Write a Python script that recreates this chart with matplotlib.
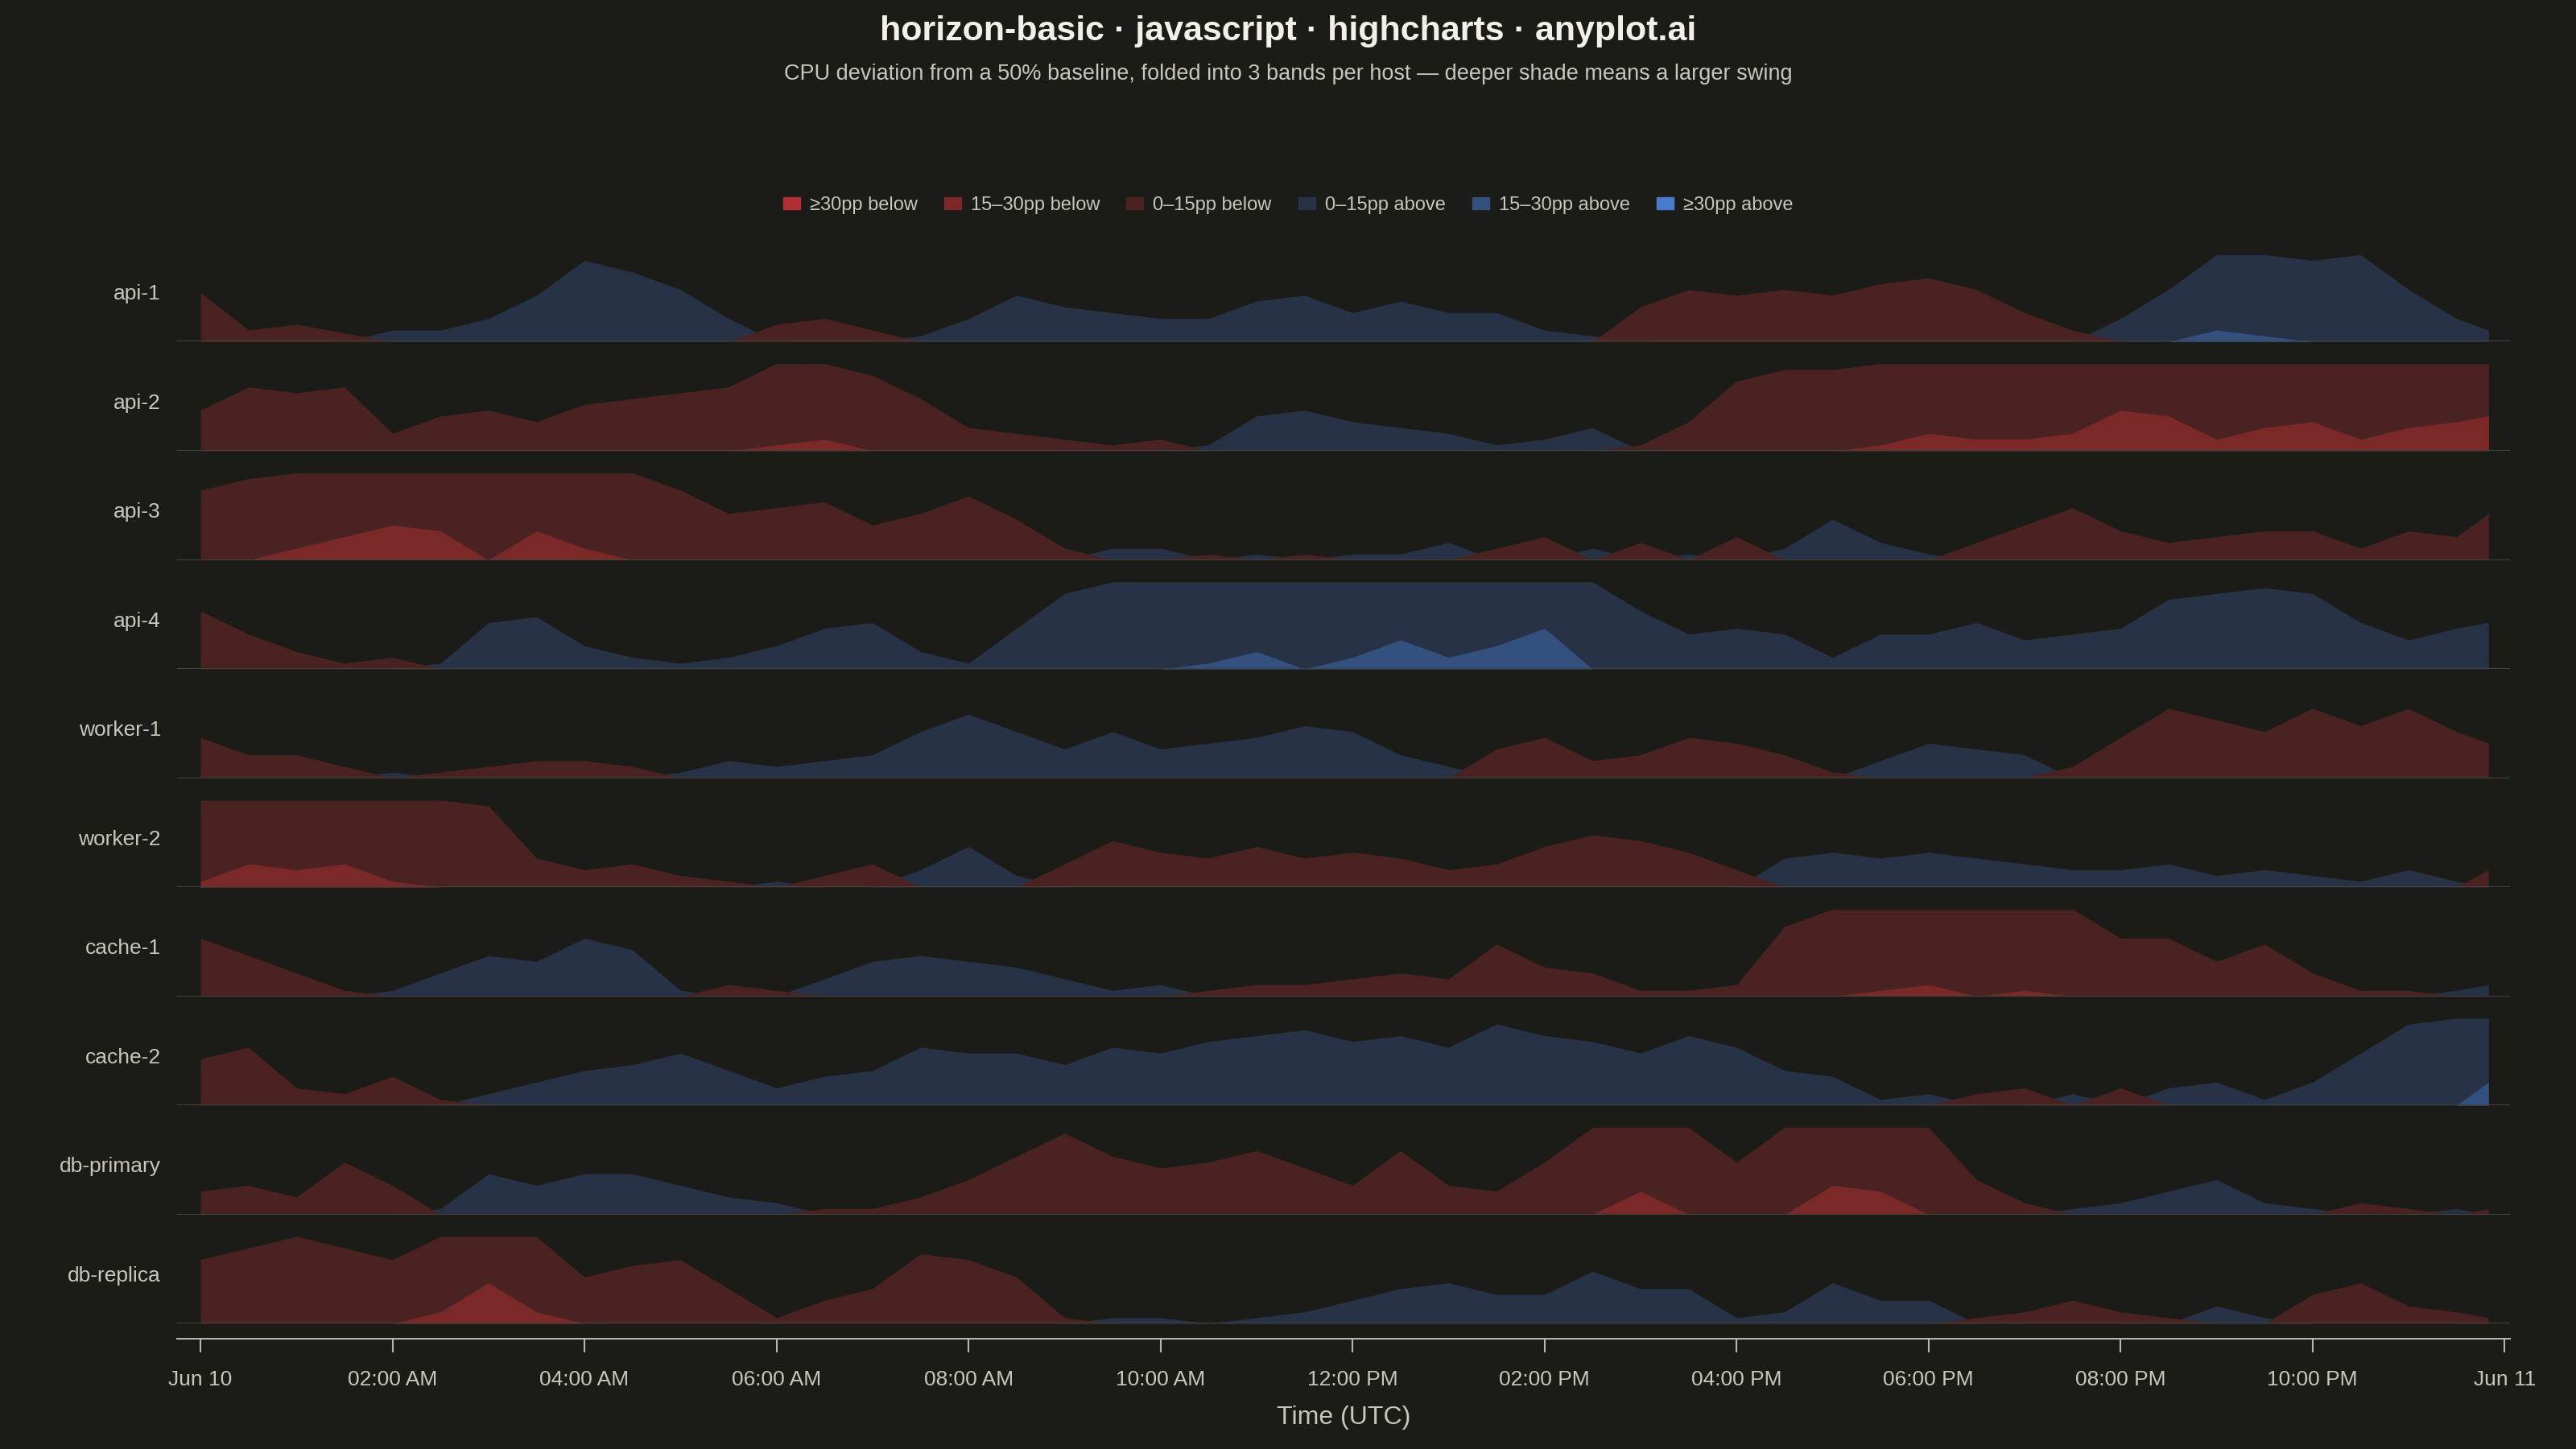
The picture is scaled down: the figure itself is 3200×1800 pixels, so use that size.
import numpy as np
import matplotlib
matplotlib.use("Agg")
import matplotlib.pyplot as plt

hosts = ["api-1","api-2","api-3","api-4","worker-1","worker-2","cache-1","cache-2","db-primary","db-replica"]
hours = [i*0.5 for i in range(48)] + [23.833]

api_1 = [-8.5,-2,-3,-1.5,2,2,4,8,14,12,9,4,-3,-4,-2,1,4,8,6,5,4,4,7,8,5,7,5,5,2,1,-6,-9,-8,-9,-8,-10,-11,-9,-5,-2,4,9,17,16,14,15,9,4,2]
api_2 = [-7,-11,-10,-11,-3,-6,-7,-5,-8,-9,-10,-11,-16,-17,-13,-9,-4,-3,-2,-1,-2,1,6,7,5,4,3,1,2,4,-1,-5,-12,-14,-14,-16,-18,-17,-17,-18,-22,-21,-17,-19,-20,-17,-19,-20,-21]
api_3 = [-12,-14,-17,-19,-21,-20,-15,-20,-17,-15,-12,-8,-9,-10,-6,-8,-11,-7,-2,2,2,-1,1,-1,1,1,3,-2,-4,2,-3,1,-4,2,7,3,1,-3,-6,-9,-5,-3,-4,-5,-5,-2,-5,-4,-8]
api_4 = [-10,-6,-3,-1,-2,1,8,9,4,2,1,2,4,7,8,3,1,7,13,15,15,16,18,15,17,20,17,19,22,15,10,6,7,6,2,6,6,8,5,6,7,12,13,14,13,8,5,7,8]
worker_1 = [-7,-4,-4,-2,1,-1,-2,-3,-3,-2,1,3,2,3,4,8,11,8,5,8,5,6,7,9,8,4,2,-5,-7,-3,-4,-7,-6,-4,-1,3,6,5,4,-2,-7,-12,-10,-8,-12,-9,-12,-8,-6]
worker_2 = [-16,-19,-18,-19,-16,-15,-14,-5,-3,-4,-2,-1,1,-2,-4,3,7,2,-4,-8,-6,-5,-7,-5,-6,-5,-3,-4,-7,-9,-8,-6,-3,5,6,5,6,5,4,3,3,4,2,3,2,1,3,1,-3]
cache_1 = [-10,-7,-4,-1,1,4,7,6,10,8,1,-2,-1,3,6,7,6,5,3,1,2,-1,-2,-2,-3,-4,-3,-9,-5,-4,-1,-1,-2,-12,-15,-16,-17,-15,-16,-15,-10,-10,-6,-9,-4,-1,-1,1,2]
cache_2 = [-8,-10,-3,-2,-5,-1,2,4,6,7,9,6,3,5,6,10,9,9,7,10,9,11,12,13,11,12,10,14,12,11,9,12,10,6,5,1,2,-2,-3,2,-3,3,4,1,4,9,14,15,19]
db_primary = [-4,-5,-3,-9,-5,1,7,5,7,7,5,3,2,-1,-1,-3,-6,-10,-14,-10,-8,-9,-11,-8,-5,-11,-5,-4,-9,-15,-19,-15,-9,-15,-20,-19,-15,-6,-2,1,2,4,6,2,1,-2,-1,1,-1]
db_replica = [-11,-13,-15,-13,-11,-17,-22,-17,-8,-10,-11,-6,-1,-4,-6,-12,-11,-8,-1,1,1,0,1,2,4,6,7,5,5,9,6,6,1,2,7,4,4,-1,-2,-4,-2,-1,3,1,-5,-7,-3,-2,-1]
series = [api_1,api_2,api_3,api_4,worker_1,worker_2,cache_1,cache_2,db_primary,db_replica]

tick_hours = [0,2,4,6,8,10,12,14,16,18,20,22,24]
tick_labels = ["Jun 10","02:00 AM","04:00 AM","06:00 AM","08:00 AM","10:00 AM","12:00 PM",
               "02:00 PM","04:00 PM","06:00 PM","08:00 PM","10:00 PM","Jun 11"]
legend_labels = ["≥30pp below","15–30pp below","0–15pp below","0–15pp above","15–30pp above","≥30pp above"]

BG = "#1b1b17"
RED = ["#4a2222", "#7a2828", "#b03035"]
BLUE = ["#283246", "#34507f", "#4a7acc"]
BAND = 15.0

fig = plt.figure(figsize=(32, 18), dpi=100, facecolor=BG)
plt.rcParams['font.family'] = ['Liberation Sans', 'DejaVu Sans']

def fx(px): return px / 1568
def fy(py): return 1 - py / 882

left, right = fx(108), fx(1528)
t = np.array(hours)
xl = (-0.24, 24.06)
row_h = 66.5
for i, (name, vals) in enumerate(zip(hosts, series)):
    base = 208 + i * 66.4
    ax = fig.add_axes([left, fy(base), right - left, row_h / 882])
    ax.set_facecolor("none")
    v = np.array(vals, float)
    for sign, cols in ((1, BLUE), (-1, RED)):
        d = np.clip(sign * v, 0, None)
        for k in range(3):
            y = np.clip(d - BAND * k, 0, BAND)
            ax.fill_between(t, 0, y, color=cols[k], lw=0, zorder=2 + k)
    ax.set_xlim(*xl)
    ax.set_ylim(0, BAND * row_h / 53)
    ax.axhline(0, color="#44443f", lw=1.5, zorder=10)
    ax.axis("off")
    fig.text(fx(98), fy(base - 29), name, ha="right", va="center", color="#c8c6bd", fontsize=19)

axt = fig.add_axes([left, fy(815), right - left, 0.001])
axt.set_facecolor("none")
axt.set_xlim(*xl)
axt.set_yticks([])
for s in ("left", "right", "top"):
    axt.spines[s].set_visible(False)
axt.spines["bottom"].set_color("#b8b6ae")
axt.spines["bottom"].set_linewidth(1.5)
axt.set_xticks(tick_hours)
axt.set_xticklabels(tick_labels, color="#c8c6bd", fontsize=19)
axt.tick_params(axis="x", colors="#b8b6ae", length=12, width=1.5, labelcolor="#c8c6bd", pad=16)
axt.set_xlabel("Time (UTC)", color="#c8c6bd", fontsize=23, labelpad=14)

fig.text(0.5, fy(19), "horizon-basic · javascript · highcharts · anyplot.ai", ha="center", va="center",
         color="#f2f0e8", fontsize=31, fontweight="bold")
fig.text(0.5, fy(45), "CPU deviation from a 50% baseline, folded into 3 bands per host — deeper shade means a larger swing",
         ha="center", va="center", color="#c8c6bd", fontsize=19.5)

from matplotlib.patches import Patch
handles = [Patch(color=c) for c in [RED[2], RED[1], RED[0], BLUE[0], BLUE[1], BLUE[2]]]
fig.legend(handles, legend_labels, loc="center", bbox_to_anchor=(0.5, fy(125)), ncol=6, frameon=False,
           fontsize=17, labelcolor="#c8c6bd", handlelength=0.9, handleheight=0.6, columnspacing=1.4, handletextpad=0.5)

fig.savefig("out.png", dpi=100, facecolor=BG)
